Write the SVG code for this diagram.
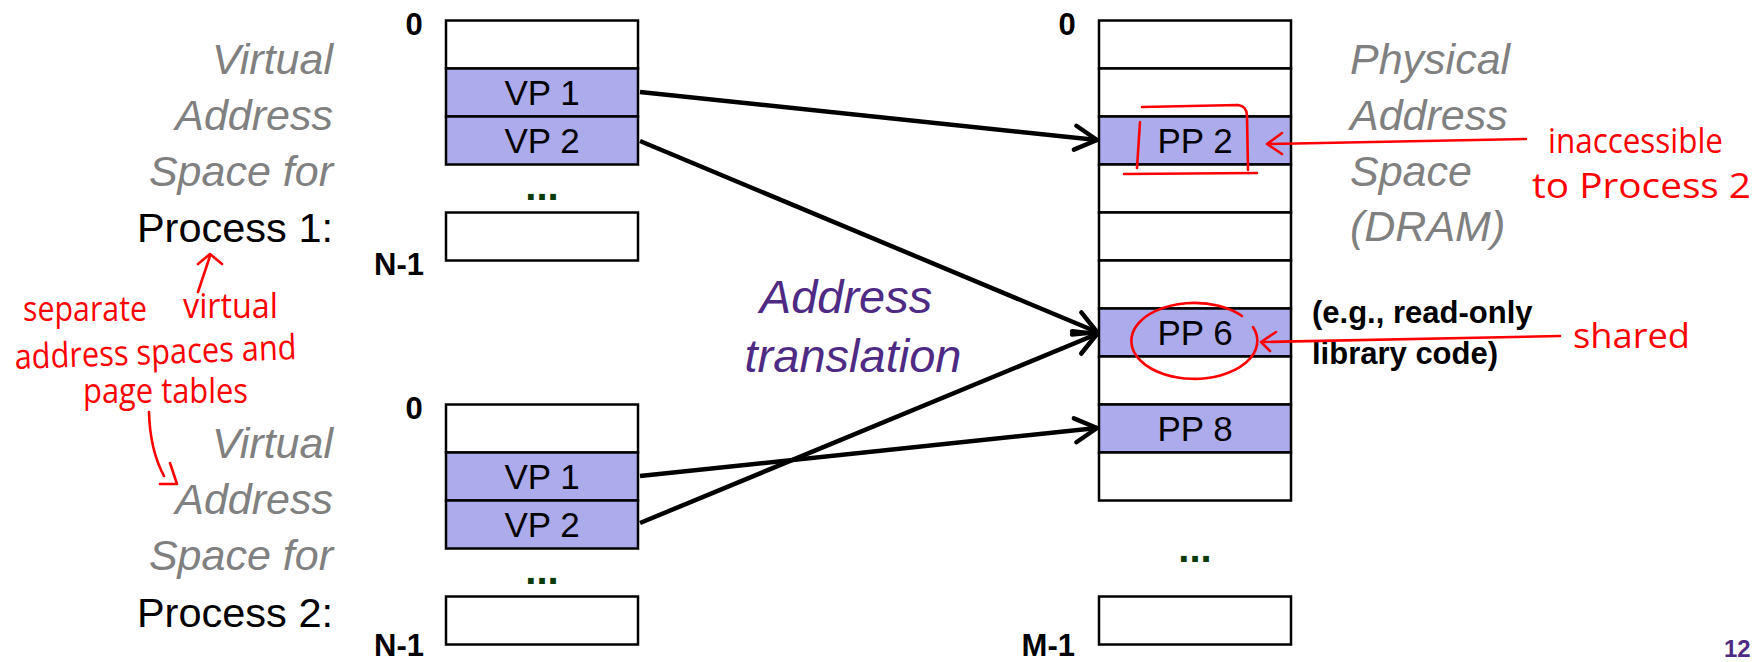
<svg xmlns="http://www.w3.org/2000/svg" width="1756" height="662" viewBox="0 0 1756 662">
<style>
.cell{fill:#ffffff;stroke:#000;stroke-width:2.5}
.pg{fill:#ACACEC;stroke:#000;stroke-width:2.5}
.pgt{font-family:"Liberation Sans",Arial,sans-serif;font-size:35px;fill:#000;text-anchor:middle}
.idx{font-family:"Liberation Sans",Arial,sans-serif;font-size:31px;font-weight:bold;fill:#000}
.gray{font-family:"Liberation Sans",Arial,sans-serif;font-size:43px;font-style:italic;fill:#808080}
.proc{font-family:"Liberation Sans",Arial,sans-serif;font-size:41.5px;fill:#000;text-anchor:end}
.dots{font-family:"Liberation Sans",Arial,sans-serif;font-size:40px;font-weight:bold;fill:#0B3A0B;text-anchor:middle}
.purple{font-family:"Liberation Sans",Arial,sans-serif;font-size:47px;font-style:italic;fill:#4E2A84;text-anchor:middle}
.note{font-family:"Liberation Sans",Arial,sans-serif;font-size:31px;font-weight:bold;fill:#000}
.ink{font-family:"Open Sans","Liberation Sans",sans-serif;font-size:35px;fill:#FF0000}
.inkl{fill:none;stroke:#FF0000;stroke-width:2.6;stroke-linecap:round;stroke-linejoin:round}
.conn{fill:none;stroke:#000;stroke-width:4.5;marker-end:url(#chev)}
</style>
<defs>
<marker id="chev" markerUnits="userSpaceOnUse" markerWidth="40" markerHeight="40" refX="0" refY="0" viewBox="-30 -20 40 40" orient="auto" overflow="visible">
<path d="M-22,-12 L0,0 L-22,12" fill="none" stroke="#000" stroke-width="4.5" stroke-linecap="round" stroke-linejoin="round"/>
</marker>
</defs>

<g id="vas1-label">
<text class="gray" x="333" y="74" text-anchor="end">Virtual</text>
<text class="gray" x="333" y="130" text-anchor="end">Address</text>
<text class="gray" x="333" y="186" text-anchor="end">Space for</text>
<text class="proc" x="333" y="242">Process 1:</text>
</g>
<g id="vas2-label">
<text class="gray" x="333" y="458" text-anchor="end">Virtual</text>
<text class="gray" x="333" y="514" text-anchor="end">Address</text>
<text class="gray" x="333" y="570" text-anchor="end">Space for</text>
<text class="proc" x="333" y="627">Process 2:</text>
</g>

<g id="vas1">
<text class="idx" x="414" y="35" text-anchor="middle">0</text>
<rect class="cell" x="446" y="20.5" width="192" height="48"/>
<rect class="pg" x="446" y="68.5" width="192" height="48"/>
<text class="pgt" x="542" y="105">VP 1</text>
<rect class="pg" x="446" y="116.5" width="192" height="48"/>
<text class="pgt" x="542" y="153">VP 2</text>
<text class="dots" x="542" y="200">...</text>
<rect class="cell" x="446" y="212.5" width="192" height="48"/>
<text class="idx" x="424" y="275" text-anchor="end">N-1</text>
</g>

<g id="vas2">
<text class="idx" x="414" y="419" text-anchor="middle">0</text>
<rect class="cell" x="446" y="404.5" width="192" height="48"/>
<rect class="pg" x="446" y="452.5" width="192" height="48"/>
<text class="pgt" x="542" y="489">VP 1</text>
<rect class="pg" x="446" y="500.5" width="192" height="48"/>
<text class="pgt" x="542" y="537">VP 2</text>
<text class="dots" x="542" y="584">...</text>
<rect class="cell" x="446" y="596.5" width="192" height="48"/>
<text class="idx" x="424" y="656" text-anchor="end">N-1</text>
</g>

<g id="pas">
<text class="idx" x="1067" y="35" text-anchor="middle">0</text>
<rect class="cell" x="1099" y="20.5" width="192" height="48"/>
<rect class="cell" x="1099" y="68.5" width="192" height="48"/>
<rect class="pg" x="1099" y="116.5" width="192" height="48"/>
<text class="pgt" x="1195" y="153">PP 2</text>
<rect class="cell" x="1099" y="164.5" width="192" height="48"/>
<rect class="cell" x="1099" y="212.5" width="192" height="48"/>
<rect class="cell" x="1099" y="260.5" width="192" height="48"/>
<rect class="pg" x="1099" y="308.5" width="192" height="48"/>
<text class="pgt" x="1195" y="345">PP 6</text>
<rect class="cell" x="1099" y="356.5" width="192" height="48"/>
<rect class="pg" x="1099" y="404.5" width="192" height="48"/>
<text class="pgt" x="1195" y="441">PP 8</text>
<rect class="cell" x="1099" y="452.5" width="192" height="48"/>
<text class="dots" x="1195" y="562">...</text>
<rect class="cell" x="1099" y="596.5" width="192" height="48"/>
<text class="idx" x="1075" y="656" text-anchor="end">M-1</text>
</g>

<g id="pas-label">
<text class="gray" x="1350" y="74">Physical</text>
<text class="gray" x="1350" y="130">Address</text>
<text class="gray" x="1350" y="186">Space</text>
<text class="gray" x="1350" y="241">(DRAM)</text>
</g>

<g id="shared-note">
<text class="note" x="1312" y="323">(e.g., read-only</text>
<text class="note" x="1312" y="364">library code)</text>
</g>

<g id="translation-label">
<text class="purple" x="846" y="313">Address</text>
<text class="purple" x="853" y="372">translation</text>
</g>

<g id="connectors">
<line class="conn" x1="640" y1="92" x2="1097" y2="140"/>
<line class="conn" x1="640" y1="141" x2="1097" y2="332"/>
<line class="conn" x1="640" y1="476" x2="1097" y2="428"/>
<line class="conn" x1="640" y1="523" x2="1097" y2="334"/>
</g>

<g id="annotations">
<path class="inkl" d="M198,292 L210,256 M198,264 L210,254 L222,264"/>
<path class="inkl" d="M149,412 Q150,450 164,476 M160,484 L177,484 L170,463"/>
<text class="ink" x="23" y="321" textLength="124" lengthAdjust="spacingAndGlyphs">separate</text>
<text class="ink" x="183" y="318" textLength="95" lengthAdjust="spacingAndGlyphs">virtual</text>
<text class="ink" x="15" y="369" textLength="282" lengthAdjust="spacingAndGlyphs" transform="rotate(-2 15 369)">address spaces and</text>
<text class="ink" x="83" y="403" textLength="165" lengthAdjust="spacingAndGlyphs">page tables</text>

<path class="inkl" d="M1142,107 L1238,105 Q1247,106 1247,116 L1248,170"/>
<path class="inkl" d="M1124,174 L1257,173"/>
<path class="inkl" d="M1140,122 L1137,168"/>
<path class="inkl" d="M1526,139 L1268,144 M1282,133 L1267,144 L1282,154"/>
<text class="ink" x="1548" y="153" textLength="175" lengthAdjust="spacingAndGlyphs">inaccessible</text>
<text class="ink" x="1532" y="198" textLength="219" lengthAdjust="spacingAndGlyphs">to Process 2</text>

<path class="inkl" d="M1242,316 A63,38 0 1,0 1253,327"/>
<path class="inkl" d="M1560,336 L1262,342 M1276,332 L1261,342 L1270,351"/>
<text class="ink" x="1573" y="348" textLength="117" lengthAdjust="spacingAndGlyphs">shared</text>
</g>

<g id="page-number">
<text x="1724" y="657" font-family="'Liberation Sans',Arial,sans-serif" font-size="24" font-weight="bold" fill="#4E2A84">12</text>
</g>
</svg>
